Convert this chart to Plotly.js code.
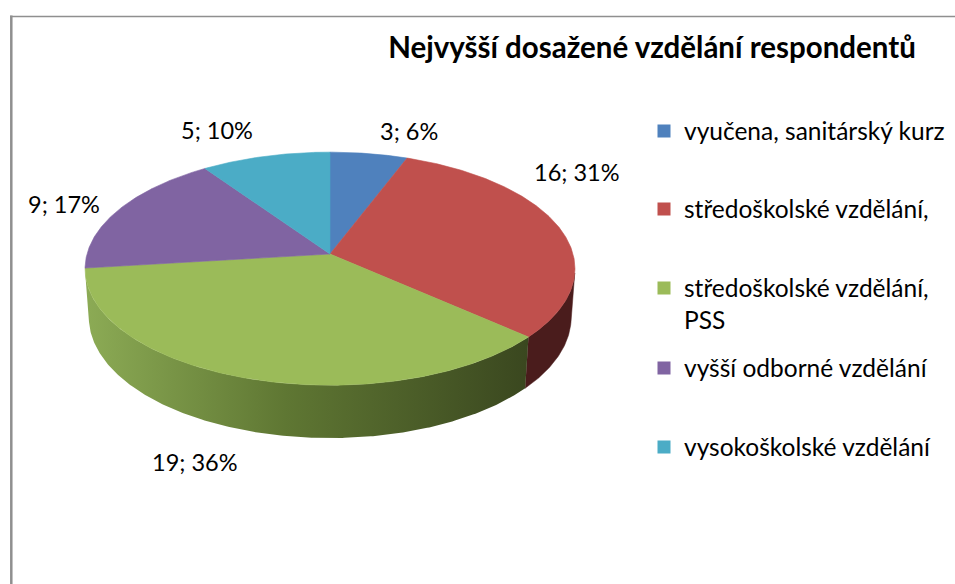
<!DOCTYPE html>
<html><head><meta charset="utf-8">
<script src="https://cdn.plot.ly/plotly-3.0.1.min.js"></script>
<style>html,body{margin:0;padding:0;background:#fff}</style>
</head><body><div id="chart" style="width:955px;height:584px"></div>
<script>
// ---- data ----
const categories = ["vyučena, sanitárský kurz", "středoškolské vzdělání,", "středoškolské vzdělání, PSS", "vyšší odborné vzdělání", "vysokoškolské vzdělání"];
const legendLabels = ["vyučena, sanitárský kurz", "středoškolské vzdělání,", "středoškolské vzdělání,<br>PSS", "vyšší odborné vzdělání", "vysokoškolské vzdělání"];
const counts = [3, 16, 19, 9, 5];
const percents = [6, 31, 36, 17, 10];
const chartTitle = "Nejvyšší dosažené vzdělání respondentů";

// ---- style ----
const topColors = ["#4F81BD", "#C0504D", "#9BBB59", "#8064A2", "#4BACC6"];
const sideColors = ["#2a4466", "#4a1c1c", null, "#3f3152", "#23586a"];
const greenSideScale = [[0, "#8cab55"], [0.45, "#5f7733"], [1, "#3a471f"]];
const FONT = "Lato, 'Open Sans', 'DejaVu Sans', sans-serif";

// 3D-projection parameters of the tilted pie (layout only)
const D = 7, sinA = 0.472, cosA = Math.sqrt(1 - sinA * sinA), F = 1701, H = 0.229;
function proj(th, r, z) {
  const X = r * Math.sin(th), Y = r * Math.cos(th);
  const depth = D + Y * cosA - z * sinA;
  return [X * F / depth, (Y * sinA + z * cosA) * F / depth];
}
const tan1 = Math.acos(-1 / (D * cosA));
const tan2 = 2 * Math.PI - tan1;

const total = counts.reduce((a, b) => a + b, 0);
const starts = [], ends = [];
let acc = 0;
counts.forEach(v => { starts.push(acc / total * 2 * Math.PI); acc += v; ends.push(acc / total * 2 * Math.PI); });

function arc(a0, a1, r, z) {
  const n = Math.max(2, Math.ceil((a1 - a0) / (Math.PI / 360)));
  const xs = [], ys = [];
  for (let k = 0; k <= n; k++) { const p = proj(a0 + (a1 - a0) * k / n, r, z); xs.push(p[0]); ys.push(p[1]); }
  return [xs, ys];
}

const traces = [];
// side walls (only the front-facing part)
counts.forEach((v, i) => {
  const b0 = Math.max(starts[i], tan1), b1 = Math.min(ends[i], tan2);
  if (b1 <= b0) return;
  const t = arc(b0, b1, 1, 0), b = arc(b0, b1, 1, -H);
  const xs = t[0].concat(b[0].slice().reverse()); const ys = t[1].concat(b[1].slice().reverse());
  xs.push(xs[0]); ys.push(ys[0]);
  const tr = { type: "scatter", mode: "lines", x: xs, y: ys, fill: "toself", showlegend: false, hoverinfo: "skip",
    line: { width: 0.5, color: sideColors[i] || "#5f7733" } };
  if (sideColors[i]) tr.fillcolor = sideColors[i];
  else { tr.fillgradient = { type: "horizontal", colorscale: greenSideScale }; tr.line.width = 0; }
  traces.push(tr);
});
// top faces
counts.forEach((v, i) => {
  const a = arc(starts[i], ends[i], 1, 0);
  const xs = [0].concat(a[0], [0]), ys = [0].concat(a[1], [0]);
  traces.push({ type: "scatter", mode: "lines", x: xs, y: ys, fill: "toself", fillcolor: topColors[i],
    line: { width: 0.6, color: topColors[i] }, name: categories[i], showlegend: false,
    text: `${categories[i]}: ${counts[i]} (${percents[i]}%)`, hoverinfo: "text" });
});
// legend entries
counts.forEach((v, i) => {
  traces.push({ type: "scatter", mode: "markers", x: [null], y: [null], name: legendLabels[i],
    legend: i === 0 ? "legend" : "legend" + (i + 1), showlegend: true, hoverinfo: "skip",
    marker: { symbol: "square", size: 13, color: topColors[i], line: { width: 0 } } });
});

// data labels
const labelShift = [[33, 5], [-26, 50], [-35, -1], [-16, -3], [-37, 9]];
const annotations = counts.map((v, i) => {
  const mid = (starts[i] + ends[i]) / 2;
  const front = Math.cos(mid) < -0.5;
  const p = proj(mid, 1.2, front ? -H : 0);
  return { x: p[0], y: p[1], xref: "x", yref: "y", text: `${counts[i]}; ${percents[i]}%`, showarrow: false,
    xshift: labelShift[i][0], yshift: labelShift[i][1], font: { family: FONT, size: 23.5, color: "#000" } };
});

const legendY = [131, 209, 304, 368, 447];
const layout = {
  width: 955, height: 584, autosize: false,
  margin: { l: 0, r: 0, t: 0, b: 0 },
  paper_bgcolor: "#fff", plot_bgcolor: "#fff",
  xaxis: { range: [-330, 625], visible: false, fixedrange: true },
  yaxis: { range: [-330, 254], visible: false, fixedrange: true },
  title: { text: chartTitle, x: 652 / 955, xanchor: "center", y: 1 - 48 / 584, yanchor: "middle",
    font: { family: FONT, size: 29.5, weight: "bold", color: "#000" } },
  annotations: annotations,
  shapes: [
    { type: "line", xref: "paper", yref: "paper", x0: 11.3 / 955, x1: 11.3 / 955, y0: 0, y1: 1 - 15.5 / 584, line: { color: "#8f8f8f", width: 2.5 } },
    { type: "line", xref: "paper", yref: "paper", x0: 10 / 955, x1: 1, y0: 1 - 16.5 / 584, y1: 1 - 16.5 / 584, line: { color: "#8f8f8f", width: 1.5 } }
  ],
  hovermode: "closest"
};
legendY.forEach((yc, i) => {
  const key = i === 0 ? "legend" : "legend" + (i + 1);
  layout[key] = { x: 644 / 955, xanchor: "left", y: 1 - yc / 584, yanchor: "middle", valign: "top",
    font: { family: FONT, size: 24.5, color: "#000" }, bgcolor: "rgba(0,0,0,0)", borderwidth: 0, itemwidth: 30 };
});

Plotly.newPlot("chart", traces, layout, { displayModeBar: false, staticPlot: false });
</script>
</body></html>
